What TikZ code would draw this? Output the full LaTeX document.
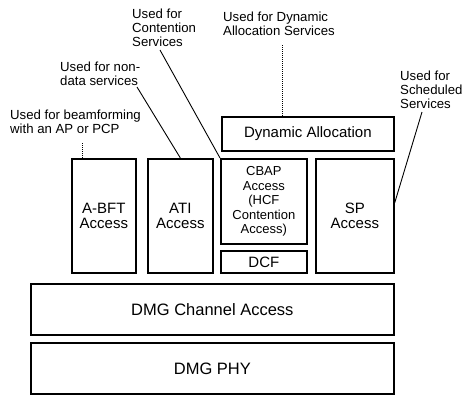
\documentclass[tikz,border=0pt]{standalone}
\usepackage{fontspec}
\setmainfont{Liberation Sans}
\usetikzlibrary{positioning}

\tikzset{
  layer/.style={draw,line width=1.7pt,inner sep=0pt,align=center,anchor=north west,
    font=\fontsize{15}{14.8}\selectfont},
  note/.style={inner sep=0pt,align=left,anchor=north west,font=\fontsize{13.2}{14}\selectfont},
  lead/.style={line width=0.9pt},
  dotlead/.style={line width=0.9pt,dash pattern=on 1.2pt off 0.8pt}
}

\begin{document}
\begin{tikzpicture}[x=1pt,y=-1pt]
  \useasboundingbox (0,0) rectangle (463,394);
  \node[layer,minimum width=64pt,minimum height=114pt] (abft) at (71,158) {A-BFT\\Access};
  \node[layer,minimum width=65pt,minimum height=114pt] (ati) at (147,158) {ATI\\Access};
  \node[layer,minimum width=86pt,minimum height=85pt,font=\fontsize{13}{14.5}\selectfont] (cbap) at (220,158) {CBAP\\Access\\(HCF\\Contention\\Access)};
  \node[layer,minimum width=86pt,minimum height=22pt] (dcf) at (220,250) {DCF};
  \node[layer,minimum width=78pt,minimum height=114pt] (sp) at (315,158) {SP\\Access};
  \node[layer,minimum width=172pt,minimum height=34pt] (dyn) at (221,116) {Dynamic Allocation};
  \node[layer,minimum width=363pt,minimum height=51pt,font=\fontsize{16.5}{18}\selectfont] (chan) at (30,283) {DMG Channel Access};
  \node[layer,minimum width=363pt,minimum height=51pt,font=\fontsize{16.5}{18}\selectfont] (phy) at (30,342) {DMG PHY};

  \node[note] (bfnote) at (10,110) {Used for beamforming\\with an AP or PCP};
  \node[note] (ndnote) at (60,62) {Used for non-\\data services};
  \node[note] (ctnote) at (132,9) {Used for\\Contention\\Services};
  \node[note] (danote) at (223,12) {Used for Dynamic\\Allocation Services};
  \node[note] (scnote) at (400,71) {Used for\\Scheduled\\Services};

  \coordinate (bfend) at (82,143);
  \coordinate (ndend) at (137,87);
  \coordinate (ctend) at (160,50);
  \coordinate (daend) at (282,45);
  \coordinate (scend) at (422,112);
  \draw[dotlead] (bfend) -- (bfend |- abft.north);
  \draw[lead] (ndend) -- (ati.north);
  \draw[lead] (ctend) -- (cbap.north west);
  \draw[dotlead] (daend) -- (daend |- dyn.north);
  \draw[lead] (scend) -- ([yshift=13pt]sp.east);
\end{tikzpicture}
\end{document}
